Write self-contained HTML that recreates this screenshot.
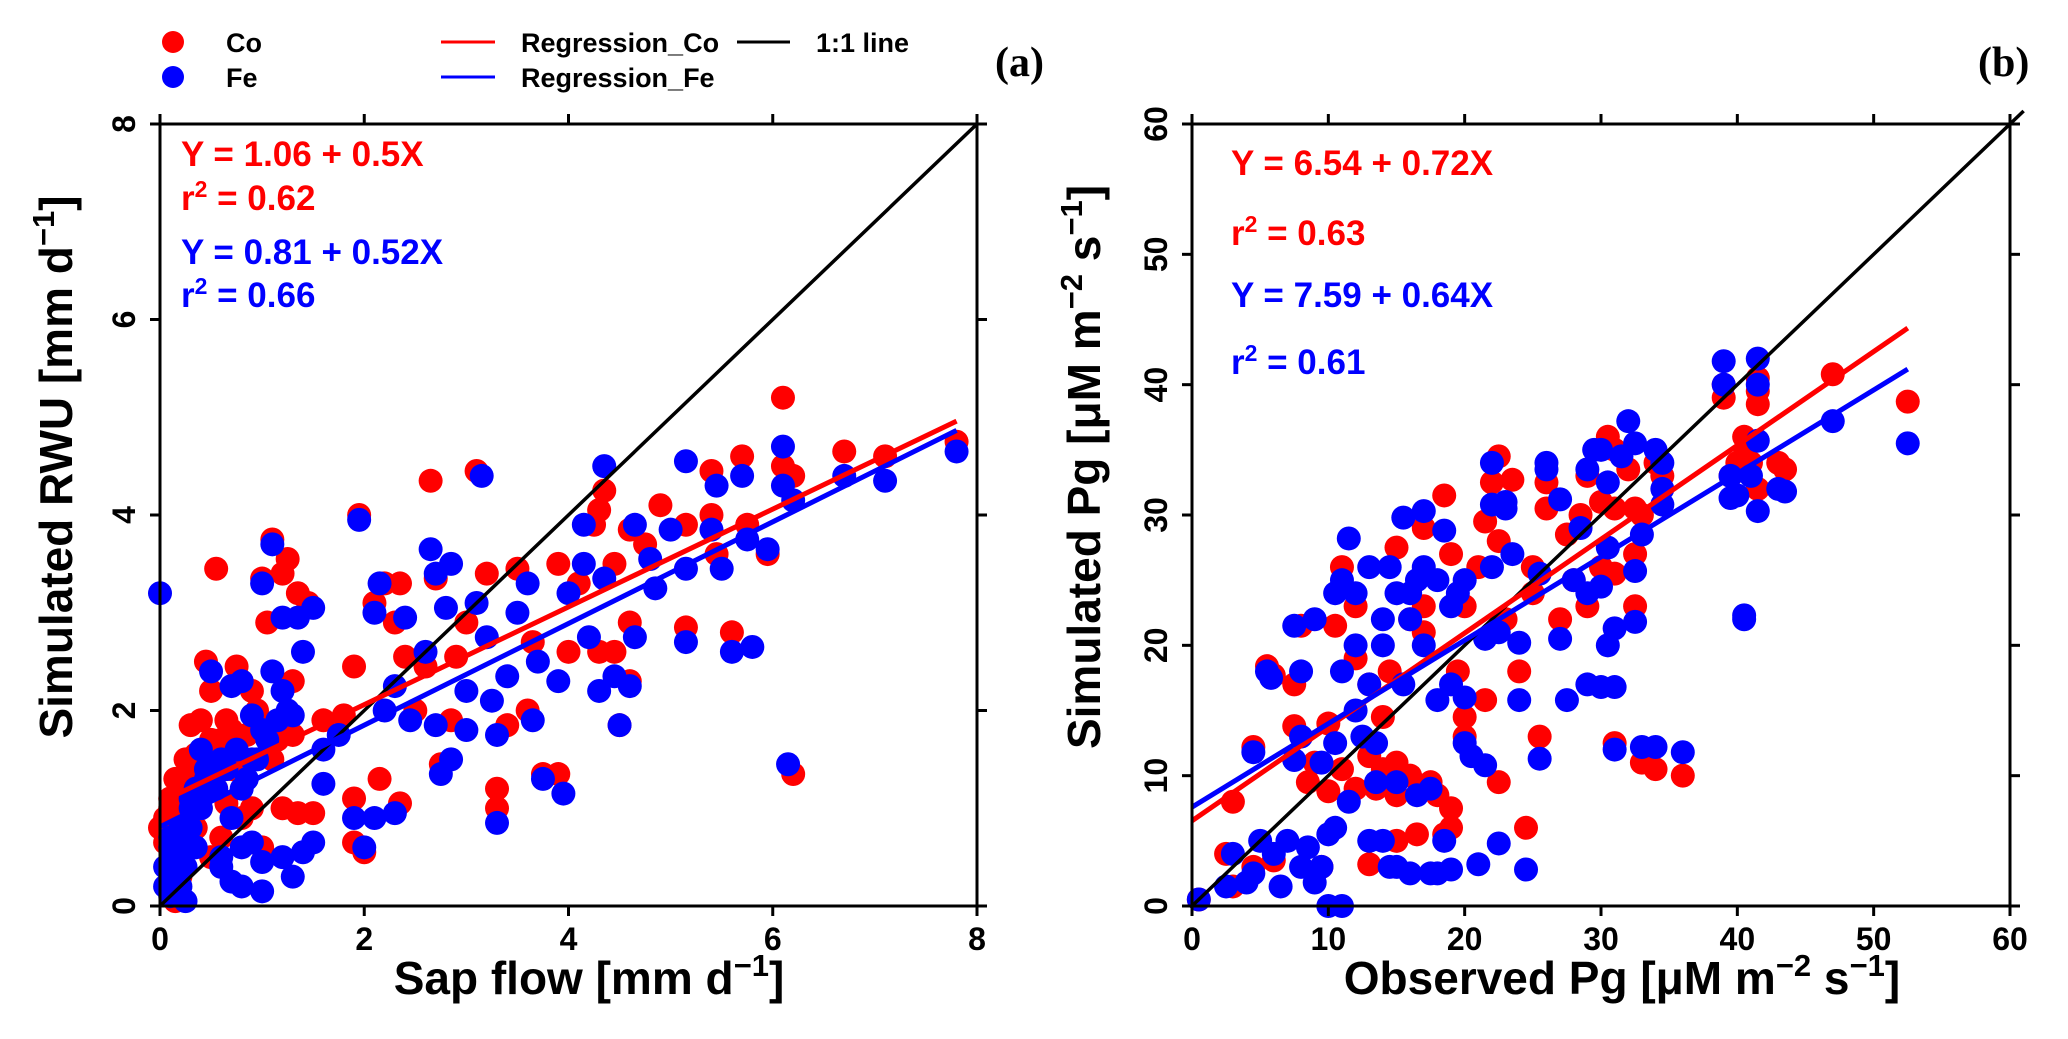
<!DOCTYPE html>
<html><head><meta charset="utf-8"><style>
body{margin:0;background:#fff}
svg{display:block;font-family:"Liberation Sans",sans-serif;font-weight:bold}
</style></head><body>
<svg id="fig" width="2068" height="1039" viewBox="0 0 2068 1039">
<g>
<circle cx="173" cy="42" r="11" fill="#ff0000"/>
<text x="226" y="52" font-size="27">Co</text>
<circle cx="173" cy="77" r="11" fill="#0000ff"/>
<text x="226" y="87" font-size="27">Fe</text>
<line x1="441" y1="42" x2="495" y2="42" stroke="#ff0000" stroke-width="3"/>
<text x="521" y="52" font-size="27">Regression_Co</text>
<line x1="441" y1="77" x2="495" y2="77" stroke="#0000ff" stroke-width="3"/>
<text x="521" y="87" font-size="27">Regression_Fe</text>
<line x1="737" y1="42" x2="790" y2="42" stroke="#000" stroke-width="3"/>
<text x="816" y="52" font-size="27">1:1 line</text>
</g>
<text x="995" y="76" font-size="42" font-family="Liberation Serif,serif">(a)</text>
<text x="1978" y="76" font-size="42" font-family="Liberation Serif,serif">(b)</text>
<g id="pa"></g>
<g id="pb"></g>
</svg>
<script>
const aCoX=[0.05,0.1,0.15,0.2,0.25,0.3,0.3,0.35,0.4,0.45,0.5,0.55,0.55,0.6,0.7,0.75,0.8,0.9,1.0,1.05,1.1,1.2,1.25,1.35,1.45,1.3,1.1,1.2,1.35,1.5,1.0,0.6,0.3,0.2,0.1,0.15,1.6,1.8,1.9,1.9,1.9,2.0,1.95,2.1,2.2,2.3,2.35,2.15,2.35,2.4,2.5,2.6,2.65,2.7,2.85,2.75,2.9,3.0,3.1,3.2,3.3,3.3,3.4,3.5,3.6,3.65,3.75,3.9,3.9,4.0,4.1,4.25,4.3,4.35,4.3,4.45,4.45,4.5,4.6,4.6,4.6,4.75,4.9,5.15,5.15,5.4,5.4,5.45,5.6,5.7,5.75,5.95,6.1,6.1,6.2,6.2,6.7,7.1,7.8,0.9,0.7,0.4,1.3,0.8,0.5,
0.0,0.05,0.1,0.15,0.2,0.25,0.3,0.35,0.4,0.45,0.5,0.6,0.65,0.75,0.85,0.95,1.05,1.15,0.25,0.35,0.45,0.55,0.65,0.15];
const aCoY=[0.65,1.0,0.9,1.2,1.3,1.45,1.85,1.55,1.9,2.5,2.2,3.45,1.6,1.7,1.8,2.45,2.3,2.2,3.35,2.9,3.75,3.4,3.55,3.2,3.1,2.3,1.5,1.0,0.95,0.95,0.6,0.7,0.6,0.3,0.2,0.05,1.9,1.95,2.45,1.1,0.65,0.55,4.0,3.1,3.3,2.9,3.3,1.3,1.05,2.55,2.0,2.45,4.35,3.35,1.9,1.45,2.55,2.9,4.45,3.4,1.2,1.0,1.85,3.45,2.0,2.7,1.35,1.35,3.5,2.6,3.3,3.9,4.05,4.25,2.6,2.6,3.5,1.85,2.3,2.9,3.85,3.7,4.1,3.9,2.85,4.45,4.0,3.6,2.8,4.6,3.9,3.6,5.2,4.5,4.4,1.35,4.65,4.6,4.75,1.0,1.4,1.0,1.75,0.9,0.5,
0.8,0.9,1.1,1.3,1.0,1.5,1.2,1.35,1.4,1.6,1.7,1.5,1.9,1.6,1.75,2.0,1.8,1.7,0.9,0.8,1.25,1.2,1.05,0.5];
const aFeX=[0.0,0.05,0.1,0.15,0.2,0.25,0.3,0.35,0.4,0.5,0.6,0.7,0.8,0.9,1.0,1.1,1.2,1.35,1.5,1.4,1.1,1.2,1.3,1.0,0.9,0.8,0.7,0.6,0.7,0.8,1.0,1.3,1.5,1.2,0.9,1.6,1.6,1.75,1.9,2.0,2.1,2.3,1.95,2.1,2.15,2.4,2.3,2.2,2.45,2.6,2.65,2.7,2.8,2.85,2.7,2.75,2.85,3.0,3.0,3.1,3.15,3.2,3.25,3.3,3.3,3.4,3.5,3.6,3.65,3.7,3.75,3.9,3.95,4.0,4.15,4.15,4.2,4.3,4.35,4.35,4.45,4.5,4.6,4.65,4.65,4.8,4.85,5.0,5.15,5.15,5.15,5.4,5.45,5.5,5.6,5.7,5.75,5.8,5.95,6.1,6.1,6.2,6.15,6.7,7.1,7.8,0.5,0.3,0.2,0.1,
0.05,0.1,0.15,0.2,0.25,0.3,0.35,0.4,0.45,0.55,0.65,0.75,0.85,0.95,1.05,1.15,1.25,0.25,0.35,0.45,0.6,0.8,1.0,1.4];
const aFeY=[3.2,0.4,0.7,0.3,0.5,0.05,0.8,1.2,1.6,2.4,1.5,2.25,2.3,1.95,3.3,3.7,2.95,2.95,3.05,2.6,2.4,2.2,1.95,1.8,1.5,1.2,0.9,0.5,0.25,0.2,0.15,0.3,0.65,0.5,0.65,1.25,1.6,1.75,0.9,0.6,0.9,0.95,3.95,3.0,3.3,2.95,2.25,2.0,1.9,2.6,3.65,3.4,3.05,3.5,1.85,1.35,1.5,1.8,2.2,3.1,4.4,2.75,2.1,0.85,1.75,2.35,3.0,3.3,1.9,2.5,1.3,2.3,1.15,3.2,3.9,3.5,2.75,2.2,4.5,3.35,2.35,1.85,2.25,2.75,3.9,3.55,3.25,3.85,4.55,3.45,2.7,3.85,4.3,3.45,2.6,4.4,3.75,2.65,3.65,4.7,4.3,4.15,1.45,4.4,4.35,4.65,1.2,1.0,0.2,0.1,
0.2,0.6,0.5,0.8,0.7,1.1,1.2,1.0,1.3,1.2,1.4,1.6,1.3,1.5,1.7,1.9,2.0,0.4,0.6,1.4,0.4,0.6,0.45,0.55];
const bCoX=[0.5,2.5,3,3,4.5,4.5,5.5,6,6,7.5,7.5,8,8.5,9,9.5,10,10,10.5,11,11,12,12,13,13,13.5,14,14,15,15,15,15,16,16,16.5,17,17,17.5,18,18.5,18.5,19,19,19,19.5,20,20,21,21.5,21.5,22,22.5,22.5,22.5,23,23.5,24,24.5,25,25.5,26,26,27,27.5,28,28.5,29,29,30,30,30.5,31,31,31,32,32.5,32.5,32.5,33,33,34,34,34.5,36,39,39,39.5,40,40.5,40.5,41,41.5,41.5,41.5,41.5,43,43.5,47,52.5,31,14.5,17,20,12,25,13];
const bCoY=[0.5,4,8,1.5,3,12.2,18.4,17.7,3.5,13.8,17,21.5,9.5,11,3,8.8,14,21.5,10.5,26,23,9,11.5,3.2,9,14.5,10.5,11,8.5,5,27.5,10,22,5.5,29,21,9.5,8.5,5.5,31.5,7.5,6,27,18,14.5,13,26,29.5,15.8,32.5,34.5,9.5,28,22,32.7,18,6,26,13,32.5,30.5,22,28.5,25,30,23,33,31,26,36,25.5,35,30.5,33.5,30.5,23,27,11,30,10.5,34,33,10,39,40,33,34,36,34.5,34,40.5,39.5,38.5,32,34,33.5,40.8,38.7,12.5,18,23,23,19,24,17];
const bFeX=[0.5,2.5,3,4,4.5,4.5,5,5.5,5.8,6,6.5,7,7.5,7.5,8,8,8,8.5,9,9,9.5,9.5,10,10,10.5,10.5,10.5,11,11,11,11.5,11.5,12,12,12.5,13,13,13,13.5,13.5,14,14,14.5,14.5,15,15,15.5,15.5,16,16,16.5,16.5,17,17,17.5,17.5,18,18,18.5,18.5,19,19,19.5,20,20,20.5,21,21.5,21.5,22,22,22,22.5,22.5,23,23,23.5,24,24,24.5,25.5,25.5,26,26,27,27,27.5,28,28.5,29,29,29,29.5,30,30,30,30.5,30.5,30.5,31,31,31,31.5,32,32.5,32.5,32.5,33,33,34,34,34.5,34.5,34.5,36,39,39,39.5,39.5,40,40.5,40.5,41,41.5,41.5,41.5,41.5,43,43.5,47,52.5,16,18,19,17,14,12,15,20];
const bFeY=[0.5,1.5,4,1.8,2.5,11.8,5,18,17.5,4,1.5,5,11.2,21.5,3,13,18,4.5,22,1.8,11,3,5.5,0,6,24,12.5,18,25,0,28.2,8,15,24,13,26,17,5,9.5,12.5,5,20,26,3,9.5,3,29.8,17,22,2.5,25,8.5,30.3,20,9,2.5,2.5,15.8,28.8,5,2.8,17,24,16,12.5,11.5,3.2,20.5,10.8,34,30.8,26,4.8,21,30.5,31,27,15.8,20.2,2.8,25.5,11.3,34,33.5,31.2,20.5,15.8,25,29,24,33.5,17,35,35,16.8,24.5,32.5,27.5,20,21.3,16.8,12,34.5,37.2,35.5,21.8,25.7,28.5,12.2,12.2,35,30.8,32,34,11.8,41.8,40,33,31.3,31.5,22.3,22,33,42,40,35.7,30.3,32,31.8,37.2,35.5,24,25,23,26,22,20,24,25];
const aTicks=[0,2,4,6,8];
const bTicks=[0,10,20,30,40,50,60];
const aReg={co:[1.06,0.5],fe:[0.81,0.52]};
const bReg={co:[6.54,0.72],fe:[7.59,0.64]};
const NS="http://www.w3.org/2000/svg";
function mk(p,tag,at){const e=document.createElementNS(NS,tag);for(const k in at)e.setAttribute(k,at[k]);p.appendChild(e);return e;}
function panel(g,L,R,T,B,max,ticks,xmaxReg,oneMax,coX,coY,feX,feY,reg){
  const sx=v=>L+(R-L)*v/max, sy=v=>B-(B-T)*v/max;
  for(let i=0;i<coX.length;i++){const c=mk(g,'circle',{cx:sx(coX[i]),cy:sy(coY[i]),r:12,fill:'#ff0000'});
    
    }
  for(let i=0;i<feX.length;i++){const c=mk(g,'circle',{cx:sx(feX[i]),cy:sy(feY[i]),r:12,fill:'#0000ff'});
    
    }
  let l=mk(g,'line',{x1:sx(0),y1:sy(0),x2:sx(oneMax),y2:sy(oneMax),stroke:'#000','stroke-width':3.5});
  
  
  l=mk(g,'line',{x1:sx(0),y1:sy(reg.co[0]),x2:sx(xmaxReg),y2:sy(reg.co[0]+reg.co[1]*xmaxReg),stroke:'#ff0000','stroke-width':5});
  
  
  l=mk(g,'line',{x1:sx(0),y1:sy(reg.fe[0]),x2:sx(xmaxReg),y2:sy(reg.fe[0]+reg.fe[1]*xmaxReg),stroke:'#0000ff','stroke-width':5});
  
  
  const box=mk(g,'rect',{x:L,y:T,width:R-L,height:B-T,fill:'none',stroke:'#000','stroke-width':3});
  
  
  ticks.forEach(t=>{
    const x=sx(t),y=sy(t);
    [[x,B,x,B+10],[x,T,x,T-10],[L,y,L-10,y],[R,y,R+10,y]].forEach(q=>mk(g,'line',{x1:q[0],y1:q[1],x2:q[2],y2:q[3],stroke:'#000','stroke-width':3}));
    const tx=mk(g,'text',{x:x,y:B+44,'font-size':32,'text-anchor':'middle'});tx.textContent=t;
    
    
    const ty=mk(g,'text',{x:0,y:0,'font-size':32,'text-anchor':'middle',transform:`translate(${L-25},${y}) rotate(-90)`});ty.textContent=t;
    
    
  });
}
panel(document.getElementById('pa'),160,977,124,906,8,aTicks,7.8,8,aCoX,aCoY,aFeX,aFeY,aReg);
panel(document.getElementById('pb'),1192,2010,124,906,60,bTicks,52.5,61,bCoX,bCoY,bFeX,bFeY,bReg);
</script>
<svg width="2068" height="1039" style="position:absolute;left:0;top:0">
<g font-family="Liberation Sans,sans-serif" font-weight="bold">
<text x="181" y="166" font-size="35" fill="#ff0000">Y = 1.06 + 0.5X</text>
<text x="181" y="210" font-size="35" fill="#ff0000">r<tspan dy="-13" font-size="23">2</tspan><tspan dy="13"> = 0.62</tspan></text>
<text x="181" y="264" font-size="35" fill="#0000ff">Y = 0.81 + 0.52X</text>
<text x="181" y="307" font-size="35" fill="#0000ff">r<tspan dy="-13" font-size="23">2</tspan><tspan dy="13"> = 0.66</tspan></text>
<text x="1231" y="175" font-size="35" fill="#ff0000">Y = 6.54 + 0.72X</text>
<text x="1231" y="245" font-size="35" fill="#ff0000">r<tspan dy="-13" font-size="23">2</tspan><tspan dy="13"> = 0.63</tspan></text>
<text x="1231" y="307" font-size="35" fill="#0000ff">Y = 7.59 + 0.64X</text>
<text x="1231" y="374" font-size="35" fill="#0000ff">r<tspan dy="-13" font-size="23">2</tspan><tspan dy="13"> = 0.61</tspan></text>
<text x="589" y="994" font-size="46" text-anchor="middle">Sap flow [mm d<tspan dy="-18" font-size="31">−1</tspan><tspan dy="18">]</tspan></text>
<text x="1622" y="994" font-size="46" text-anchor="middle">Observed Pg [μM m<tspan dy="-18" font-size="31">−2</tspan><tspan dy="18"> s</tspan><tspan dy="-18" font-size="31">−1</tspan><tspan dy="18">]</tspan></text>
<text transform="translate(72,467) rotate(-90)" font-size="46" text-anchor="middle">Simulated RWU [mm d<tspan dy="-18" font-size="31">−1</tspan><tspan dy="18">]</tspan></text>
<text transform="translate(1100,467) rotate(-90)" font-size="46" text-anchor="middle">Simulated Pg [μM m<tspan dy="-18" font-size="31">−2</tspan><tspan dy="18"> s</tspan><tspan dy="-18" font-size="31">−1</tspan><tspan dy="18">]</tspan></text>
</g>
</svg>
</body></html>
